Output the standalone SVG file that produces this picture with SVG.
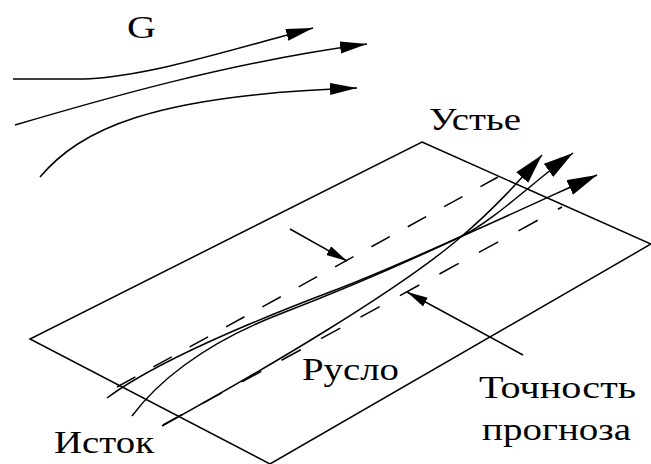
<svg xmlns="http://www.w3.org/2000/svg" width="651" height="464" viewBox="0 0 651 464">
  <style>
    .ln { fill: none; stroke: #000; stroke-width: 1.5; }
    .dash { fill: none; stroke: #000; stroke-width: 1.5; }
  </style>
  <defs>
    <marker id="ahG" markerUnits="userSpaceOnUse" markerWidth="30" markerHeight="14" refX="27" refY="6" orient="auto">
      <path d="M0,0 L27,6 L0,12 z" fill="#000"/>
    </marker>
    <marker id="ahS" markerUnits="userSpaceOnUse" markerWidth="32" markerHeight="18" refX="30" refY="8" orient="auto">
      <path d="M0,0 L30,8 L0,16 z" fill="#000"/>
    </marker>
    <marker id="ahP" markerUnits="userSpaceOnUse" markerWidth="24" markerHeight="12" refX="21" refY="5" orient="auto">
      <path d="M0,0 L21,5 L0,10 z" fill="#000"/>
    </marker>
  </defs>

  <g id="plane">
    <path class="ln" d="M422,142 L651,244 L270,464 L30,339 Z"/>
  </g>

  <g id="band">
    <line class="dash" x1="117" y1="387" x2="498" y2="177" stroke-dasharray="21 20.5"/>
    <line class="dash" x1="163" y1="425" x2="562" y2="207" stroke-dasharray="22 23"/>
  </g>

  <g id="connectors">
    <path class="ln" d="M13,79 L85,79 C150,76 230,50 313,28" marker-end="url(#ahG)"/>
    <path class="ln" d="M15,125 C100,100 230,62 367,44" marker-end="url(#ahG)"/>
    <path class="ln" d="M40,177 C80,130 150,95 357,88" marker-end="url(#ahG)"/>
    <path class="ln" d="M107,398 C150,366 230,330 330,292 C400,266 520,210 597,175" marker-end="url(#ahS)"/>
    <path class="ln" d="M132,416 C155,385 200,345 280,314 C350,287 420,256 462,236 C495,220 535,180 573,153" marker-end="url(#ahS)"/>
    <path class="ln" d="M162,426 C260,372 400,290 462,236 C495,208 520,180 542,155" marker-end="url(#ahS)"/>
    <line class="ln" x1="290" y1="229" x2="347" y2="261" marker-end="url(#ahP)"/>
    <line class="ln" x1="523" y1="355" x2="407" y2="292" marker-end="url(#ahP)"/>
  </g>

  <g font-family="Liberation Serif, Times New Roman, Times, DejaVu Serif, serif" font-size="32" fill="#000">
    <g id="label-g"><text x="127" y="38" textLength="29" lengthAdjust="spacingAndGlyphs">G</text></g>
    <g id="label-ustye"><text x="429" y="130" textLength="92" lengthAdjust="spacingAndGlyphs">Устье</text></g>
    <g id="label-istok"><text x="54" y="453" textLength="100" lengthAdjust="spacingAndGlyphs">Исток</text></g>
    <g id="label-ruslo"><text x="302" y="380" textLength="97" lengthAdjust="spacingAndGlyphs">Русло</text></g>
    <g id="label-accuracy">
      <text x="479" y="398" textLength="157" lengthAdjust="spacingAndGlyphs">Точность</text>
      <text x="482" y="440" textLength="149" lengthAdjust="spacingAndGlyphs">прогноза</text>
    </g>
  </g>
</svg>
